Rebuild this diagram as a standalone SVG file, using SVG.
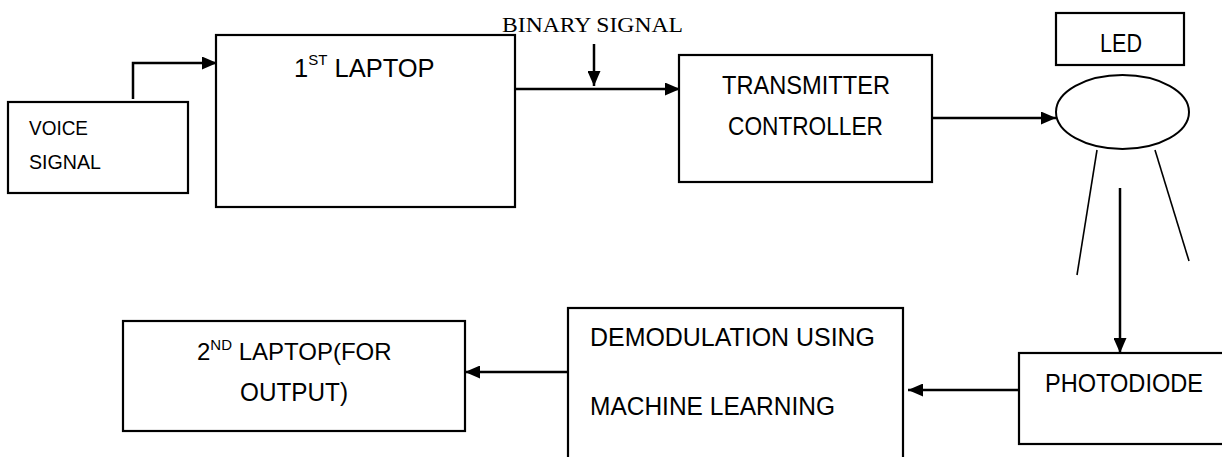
<svg xmlns="http://www.w3.org/2000/svg" width="1222" height="457" viewBox="0 0 1222 457">
<style>
.box{fill:#fff;stroke:#000;stroke-width:2.2}
.lbl{font-family:"Liberation Sans",Arial,sans-serif;font-size:25px;fill:#000}
.sm{font-family:"Liberation Sans",Arial,sans-serif;font-size:20px;fill:#000}
.sup{font-family:"Liberation Sans",Arial,sans-serif;font-size:15px;fill:#000}
.serif{font-family:"Liberation Serif","Times New Roman",serif;font-size:22px;fill:#000}
.con{fill:none;stroke:#000;stroke-width:2.5;marker-end:url(#ah)}
.ray{fill:none;stroke:#000;stroke-width:1.6}
</style>
<defs>
<marker id="ah" markerWidth="15" markerHeight="13" refX="15" refY="6.5" orient="auto" markerUnits="userSpaceOnUse">
<path d="M0,0 L15,6.5 L0,13 z" fill="#000"/>
</marker>
</defs>
<rect width="1222" height="457" fill="#fff"/>

<g id="voice">
<rect class="box" x="8" y="102" width="180" height="91"/>
<text class="sm" x="29" y="135" textLength="59" lengthAdjust="spacingAndGlyphs">VOICE</text>
<text class="sm" x="29" y="169" textLength="72" lengthAdjust="spacingAndGlyphs">SIGNAL</text>
</g>

<g id="laptop1">
<rect class="box" x="216" y="35" width="299" height="172"/>
<text class="lbl" x="294" y="77" style="font-size:25.5px">1<tspan class="sup" dy="-12">ST</tspan><tspan dy="12"> LAPTOP</tspan></text>
</g>

<g id="binary">
<text class="serif" x="502" y="32" textLength="181" lengthAdjust="spacingAndGlyphs">BINARY SIGNAL</text>
</g>

<g id="transmitter">
<rect class="box" x="679" y="55" width="253" height="127"/>
<text class="lbl" x="722" y="94" textLength="168" lengthAdjust="spacingAndGlyphs">TRANSMITTER</text>
<text class="lbl" x="728" y="135" textLength="155" lengthAdjust="spacingAndGlyphs">CONTROLLER</text>
</g>

<g id="led">
<rect class="box" x="1056" y="13" width="128" height="52"/>
<text class="lbl" x="1100" y="52" textLength="42" lengthAdjust="spacingAndGlyphs">LED</text>
<ellipse cx="1122.5" cy="112" rx="66.5" ry="37" fill="none" stroke="#000" stroke-width="2"/>
<line class="ray" x1="1097" y1="150" x2="1077" y2="275"/>
<line class="ray" x1="1155" y1="150" x2="1189" y2="261"/>
</g>

<g id="photodiode">
<rect class="box" x="1019" y="353" width="215" height="91"/>
<text class="lbl" x="1045" y="392" textLength="158" lengthAdjust="spacingAndGlyphs">PHOTODIODE</text>
</g>

<g id="demod">
<rect class="box" x="568" y="308" width="335" height="170"/>
<text class="lbl" x="590" y="346" textLength="285" lengthAdjust="spacingAndGlyphs">DEMODULATION USING</text>
<text class="lbl" x="590" y="415" textLength="245" lengthAdjust="spacingAndGlyphs">MACHINE LEARNING</text>
</g>

<g id="laptop2">
<rect class="box" x="123" y="321" width="342" height="110"/>
<text class="lbl" x="197" y="360" style="font-size:24px">2<tspan class="sup" dy="-10">ND</tspan><tspan dy="10"> LAPTOP(FOR</tspan></text>
<text class="lbl" x="240" y="401" textLength="108" lengthAdjust="spacingAndGlyphs">OUTPUT)</text>
</g>

<g id="connectors">
<path class="con" d="M133,99 V63 H217"/>
<path class="con" d="M515,89 H680"/>
<path class="con" d="M594,44 V86"/>
<path class="con" d="M932,118 H1056"/>
<path class="con" d="M1120,188 V353"/>
<path class="con" d="M1020,390 H908"/>
<path class="con" d="M568,372 H465"/>
</g>
</svg>
